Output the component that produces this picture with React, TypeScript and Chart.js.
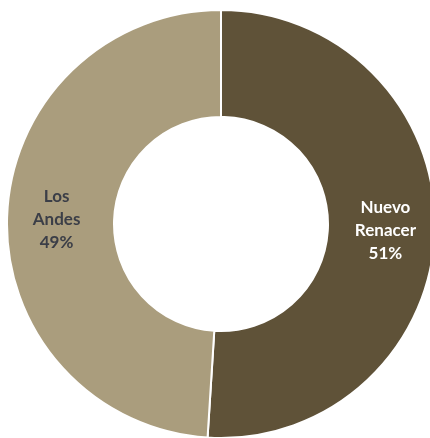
import React, { useEffect, useRef } from "react";
import { Chart, registerables } from "chart.js";

Chart.register(...registerables);

const categories = ["Nuevo Renacer", "Los Andes"];
const labelLines = [["Nuevo", "Renacer"], ["Los", "Andes"]];
const values = [51, 49];
const colors = ["#5f5238", "#aa9d7d"];
const textColors = ["#ffffff", "#3b3e47"];

const labelPlugin = {
  id: "sliceLabels",
  afterDatasetsDraw(chart: any) {
    const ctx = chart.ctx;
    const meta = chart.getDatasetMeta(0);
    const total = values.reduce((a, b) => a + b, 0);
    ctx.save();
    ctx.font = "bold 17px Lato";
    ctx.textAlign = "center";
    ctx.textBaseline = "middle";
    meta.data.forEach((arc: any, i: number) => {
      const p = arc.tooltipPosition();
      const cx = arc.x;
      const cy = arc.y;
      const x = cx + (p.x - cx) * 1.025;
      const y = cy + (p.y - cy) * 1.025 + 1;
      const lines = [...labelLines[i], Math.round((values[i] / total) * 100) + "%"];
      const lh = 23;
      const startY = y - ((lines.length - 1) * lh) / 2;
      ctx.fillStyle = textColors[i];
      lines.forEach((t, j) => ctx.fillText(t, x, startY + j * lh));
    });
    ctx.restore();
  },
};

export default function App() {
  const ref = useRef<HTMLCanvasElement>(null);
  useEffect(() => {
    if (!ref.current) return;
    const chart = new Chart(ref.current, {
      type: "doughnut",
      data: {
        labels: categories,
        datasets: [
          {
            data: values,
            backgroundColor: colors,
            borderColor: "#ffffff",
            borderWidth: 2,
          },
        ],
      },
      options: {
        animation: false,
        responsive: false,
        cutout: "50%",
        layout: { padding: 0 },
        plugins: {
          legend: { display: false },
          tooltip: { enabled: false },
        },
      },
      plugins: [labelPlugin],
    });
    return () => chart.destroy();
  }, []);
  return (
    <div
      style={{
        position: "fixed",
        left: 0,
        top: 0,
        width: 430,
        height: 438,
        overflow: "hidden",
        background: "#ffffff",
      }}
    >
      <canvas
        ref={ref}
        width={430}
        height={430}
        style={{ position: "absolute", left: 6, top: 9, width: 430, height: 430 }}
      />
    </div>
  );
}
